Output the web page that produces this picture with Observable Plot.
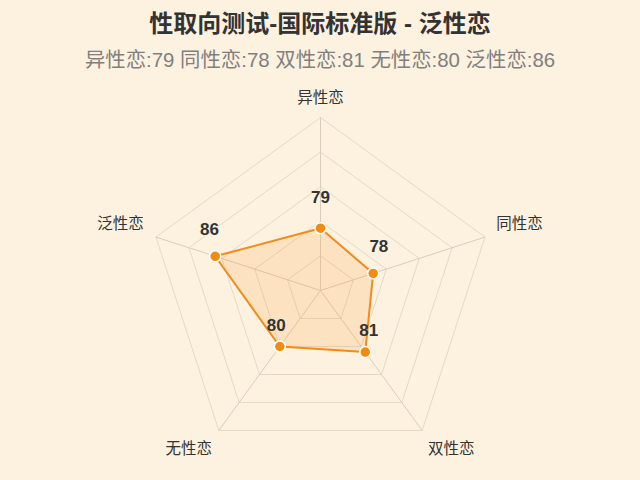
<!DOCTYPE html>
<html><head><meta charset="utf-8">
<script src="https://cdn.jsdelivr.net/npm/d3@7"></script>
<script src="https://cdn.jsdelivr.net/npm/@observablehq/plot@0.6"></script>
<style>
html,body{margin:0;padding:0;background:#FDF1DF;}
body{width:640px;height:480px;overflow:hidden;font-family:"Liberation Sans",Arial,"Noto Sans CJK SC",sans-serif;}
#title{height:48px;line-height:48px;text-align:center;font-size:24px;font-weight:bold;color:#333;}
#subtitle{height:32px;line-height:24px;text-align:center;font-size:20.4px;color:#808080;}
#chart svg{display:block;}
</style></head><body>
<div id="title"></div><div id="subtitle"></div><div id="chart"></div>
<script>
const titleText = "性取向测试-国际标准版 - 泛性恋";
const categories = ["异性恋", "同性恋", "双性恋", "无性恋", "泛性恋"];
const scores = [79, 78, 81, 80, 86];
const radialMin = 70;
const radialMax = 95;
const ringLevels = [75, 80, 85, 90, 95];

document.getElementById("title").textContent = titleText;
document.getElementById("subtitle").textContent = categories.map((c, i) => `${c}:${scores[i]}`).join(" ");

const W = 640, H = 400, cx = 320, cy = 210, R = 173;
const k = R / (radialMax - radialMin);
const n = categories.length;
const ang = i => i * 2 * Math.PI / n;
const pt = (v, i) => ({x: (v - radialMin) * Math.sin(ang(i)), y: (v - radialMin) * Math.cos(ang(i))});

const rings = ringLevels.flatMap(l => d3.range(n + 1).map(j => ({level: l, ...pt(l, j % n)})));
const spokes = categories.map((c, i) => ({cat: c, ...pt(radialMax, i)}));
const poly = scores.map((v, i) => ({cat: categories[i], v, i, ...pt(v, i)}));
const closed = [...poly, poly[0]];

const labelR = radialMax + 15 / k;
const axisLabels = categories.map((c, i) => {
  const s = Math.sin(ang(i)), co = Math.cos(ang(i));
  return {
    cat: c,
    ...pt(labelR, i),
    ta: Math.abs(s) < 0.01 ? "middle" : s > 0 ? "start" : "end",
    la: co > 0 ? "bottom" : "top"
  };
});
const combos = [...new Set(axisLabels.map(d => d.ta + "|" + d.la))];
const labelMarks = combos.map(cb => {
  const [ta, la] = cb.split("|");
  const side = ta !== "middle";
  return Plot.text(axisLabels.filter(d => d.ta === ta && d.la === la), {
    x: "x", y: "y", text: "cat", textAnchor: ta, lineAnchor: la,
    dx: ta === "start" ? -3 : ta === "end" ? 2 : 0,
    dy: side && la === "bottom" ? -3 : 0,
    fontSize: 15.5, fill: "#333"
  });
});

const chart = Plot.plot({
  width: W, height: H, margin: 0,
  x: {domain: [-cx / k, (W - cx) / k], range: [0, W], axis: null},
  y: {domain: [-(H - cy) / k, cy / k], range: [H, 0], axis: null},
  style: {background: "transparent", fontFamily: '"Liberation Sans", Arial, "Noto Sans CJK SC", sans-serif', overflow: "visible"},
  marks: [
    Plot.line(rings, {x: "x", y: "y", z: "level", stroke: "#e5d9c8", strokeWidth: 1}),
    Plot.link(spokes, {x1: 0, y1: 0, x2: "x", y2: "y", stroke: "#dccdb8", strokeWidth: 1}),
    Plot.line(closed, {x: "x", y: "y", fill: "#F5901E", fillOpacity: 0.15, stroke: "#F08C1A", strokeWidth: 2}),
    Plot.dot(poly, {x: "x", y: "y", r: 5.5, fill: "#F28C0F", stroke: "white", strokeWidth: 1.5}),
    Plot.text(poly, {
      x: d => d.x + 6 * Math.sin(ang(d.i)) / k,
      y: d => d.y + (20 + 5.5 * (1 + Math.cos(ang(d.i)))) / k,
      text: d => String(d.v), fontSize: 17, fontWeight: "bold", fill: "#333"
    }),
    ...labelMarks
  ]
});
document.getElementById("chart").appendChild(chart);
</script>
</body></html>
